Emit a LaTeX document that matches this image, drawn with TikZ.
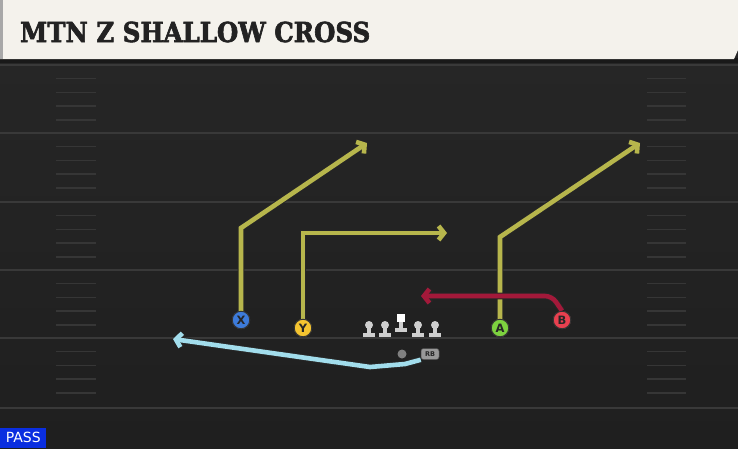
\documentclass[tikz,border=0pt]{standalone}
\usepackage{fontspec}
\setmainfont{DejaVu Sans}
\newfontfamily\titlefont[FakeStretch=0.89,FakeBold=2.2]{DejaVu Serif}
\usetikzlibrary{arrows.meta}
\definecolor{fieldc}{HTML}{272727}
\definecolor{fieldlow}{HTML}{1F1F1F}
\definecolor{cream}{HTML}{F4F2EC}
\definecolor{stripc}{HTML}{A8A8A8}
\definecolor{titlec}{HTML}{222222}
\definecolor{yardc}{HTML}{393939}
\definecolor{hashc}{HTML}{363636}
\definecolor{ylw}{HTML}{B7B64C}
\definecolor{redr}{HTML}{A3193A}
\definecolor{bluer}{HTML}{A2DDEC}
\definecolor{pX}{HTML}{3D7BDA}
\definecolor{pY}{HTML}{F4C430}
\definecolor{pA}{HTML}{7DD23F}
\definecolor{pB}{HTML}{E8404F}
\definecolor{lmgray}{HTML}{CFCFCF}
\definecolor{passblue}{HTML}{0A2EE0}
\tikzset{
  route/.style={draw=#1, line width=4.6pt, line join=miter,
    -{Straight Barb[length=5.5pt,width=14pt]},
    preaction={draw=black!85, line width=6.6pt, -{Straight Barb[length=5.5pt,width=14pt]}}},
  player/.style={circle, fill=#1, draw=black!80, line width=0.9pt, minimum size=17.5pt,
    inner sep=0pt, font=\bfseries\fontsize{11.5}{11.5}\selectfont, text=black!85},
  yardline/.style={draw=yardc, line width=2pt},
  hashline/.style={draw=hashc, line width=1.4pt},
  lineman/.pic={
    \fill[lmgray] (0,0) circle (4);
    \fill[lmgray] (-1.8,0) rectangle (1.8,9);
    \fill[lmgray] (-6,8) rectangle (6,11.5);
  }
}
\begin{document}
\begin{tikzpicture}[x=1pt,y=-1pt]
\useasboundingbox (0,0) rectangle (738,448);
\shade[top color=fieldc, bottom color=fieldlow] (0,0) rectangle (738,448);
% yard lines
\foreach \yy in {65,133,202,270,338,408} \draw[yardline] (0,\yy) -- (738,\yy);
% hash marks
\foreach \yy in {65,133,202,270,338} {
  \foreach \k in {1,2,3,4} {
    \draw[hashline] (56,\yy+13.7*\k) -- (96,\yy+13.7*\k);
    \draw[hashline] (647,\yy+13.7*\k) -- (686,\yy+13.7*\k);
  }
}
% header
\fill[black!90] (0,58) rectangle (738,63);
\fill[cream] (0,0) -- (738,0) -- (738,50) -- (734,59) -- (0,59) -- cycle;
\fill[stripc] (0,0) rectangle (3,59);
\node[anchor=base west, inner sep=0pt, text=titlec,
  font=\titlefont\bfseries\fontsize{27.5}{27.5}\selectfont] (title) at (20,42) {MTN Z SHALLOW CROSS};
% players
\node[player=pX] (X) at (241,320) {X};
\node[player=pY] (Y) at (303,328) {Y};
\node[player=pA] (A) at (500,328) {A};
\node[player=pB] (B) at (562,320) {B};
% line
\foreach \xx in {369,385,418,435} \pic at (\xx,325) {lineman};
\fill[white] (397,314) rectangle (405,322);
\fill[lmgray] (399.2,322) rectangle (402.8,329);
\fill[lmgray] (395,328) rectangle (407,331.5);
\node[circle, fill=black!50, minimum size=9pt, inner sep=0pt] (QB) at (402,354) {};
\node[rounded corners=2.5pt, fill=black!40, draw=black!70, line width=0.5pt, minimum width=18pt, minimum height=11pt,
  inner sep=0pt, font=\bfseries\fontsize{6.5}{6.5}\selectfont, text=black!85] (RB) at (430,354) {RB};
% routes
\coordinate (x1) at (241,228); \coordinate (x2) at (367,143);
\coordinate (y1) at (303,233); \coordinate (y2) at (447,233);
\coordinate (a1) at (500,237); \coordinate (a2) at (640,143);
\coordinate (b1) at (552,296); \coordinate (b2) at (421,296);
\coordinate (r1) at (405,364); \coordinate (r2) at (370,367); \coordinate (r3) at (173,339);
\draw[route=ylw] (X) -- (x1) -- (x2);
\draw[route=ylw] (Y) -- (y1) -- (y2);
\draw[route=ylw] (A) -- (a1) -- (a2);
\draw[route=redr, rounded corners=7pt] (B.north) -- (b1) -- (b2);
\draw[route=bluer] (RB.south west) -- (r1) -- (r2) -- (r3);
\node[player=pX] at (X) {X};
\node[player=pY] at (Y) {Y};
\node[player=pA] at (A) {A};
\node[player=pB] at (B) {B};
% pass tag
\node[fill=passblue, text=white, anchor=south west, minimum width=46pt, minimum height=20pt, inner sep=0pt,
  font=\fontsize{14}{14}\selectfont] (pass) at (0,448) {PASS};
\end{tikzpicture}
\end{document}
